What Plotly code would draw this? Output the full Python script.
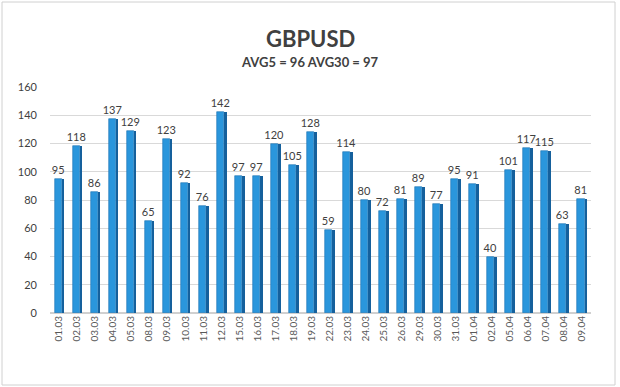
import plotly.graph_objects as go

dates = ["01.03", "02.03", "03.03", "04.03", "05.03", "08.03", "09.03", "10.03", "11.03", "12.03",
         "15.03", "16.03", "17.03", "18.03", "19.03", "22.03", "23.03", "24.03", "25.03", "26.03",
         "29.03", "30.03", "31.03", "01.04", "02.04", "05.04", "06.04", "07.04", "08.04", "09.04"]
values = [95, 118, 86, 137, 129, 65, 123, 92, 76, 142,
          97, 97, 120, 105, 128, 59, 114, 80, 72, 81,
          89, 77, 95, 91, 40, 101, 117, 115, 63, 81]
y_ticks = [0, 20, 40, 60, 80, 100, 120, 140, 160]
title = "GBPUSD"
subtitle = "AVG5 = 96 AVG30 = 97"

FONT = "Lato"
L, R, T, B = 50, 29, 87, 74
W, H = 620, 387
pw, ph = W - L - R, H - T - B

fig = go.Figure()
# side face (darker)
fig.add_trace(go.Bar(
    x=dates, y=values, width=0.15, offset=0.14,
    marker=dict(color="#15609c", line=dict(width=0)),
    hoverinfo="skip", showlegend=False,
))
# front face
fig.add_trace(go.Bar(
    x=dates, y=values, width=0.39, offset=-0.25,
    marker=dict(color="#2a96dc", line=dict(width=0.6, color="#1a70b0")),
    text=[str(v) for v in values], textposition="outside", constraintext="none",
    textfont=dict(family=FONT, size=11, color="#404040"),
    cliponaxis=False, showlegend=False,
))

def px_x(p):
    return (p - L) / pw

def px_y(p):
    return (H - B - p) / ph

fig.update_layout(
    width=W, height=H,
    margin=dict(l=L, r=R, t=T, b=B, autoexpand=False),
    paper_bgcolor="white", plot_bgcolor="white",
    barmode="overlay", bargap=0,
    font=dict(family=FONT, color="#404040"),
    xaxis=dict(type="category", tickangle=-90, showgrid=False, showline=False, automargin=False,
               tickfont=dict(family=FONT, size=10, color="#595959"), ticks=""),
    yaxis=dict(range=[0, 160], tickvals=y_ticks, showgrid=True, gridcolor="#d9d9d9",
               gridwidth=1, zeroline=True, zerolinecolor="#d0d0d0", showline=False,
               ticks="", ticklabelstandoff=12, automargin=False,
               tickfont=dict(family=FONT, size=11, color="#404040")),
    annotations=[
        dict(text="<b>" + title + "</b>", xref="paper", yref="paper",
             x=px_x(310), y=px_y(38), xanchor="center", yanchor="middle", showarrow=False,
             font=dict(family=FONT, size=22, color="#404040")),
        dict(text="<b>" + subtitle + "</b>", xref="paper", yref="paper",
             x=px_x(310), y=px_y(62), xanchor="center", yanchor="middle", showarrow=False,
             font=dict(family=FONT, size=13, color="#404040")),
    ],
    shapes=[
        dict(type="rect", xref="paper", yref="paper",
             x0=px_x(2), x1=px_x(615), y0=px_y(385), y1=px_y(2),
             line=dict(color="#d0d0d0", width=1), layer="below"),
    ],
)

fig.write_html("out.html", config={"displayModeBar": False},
               post_script="document.body.style.margin='0';")
